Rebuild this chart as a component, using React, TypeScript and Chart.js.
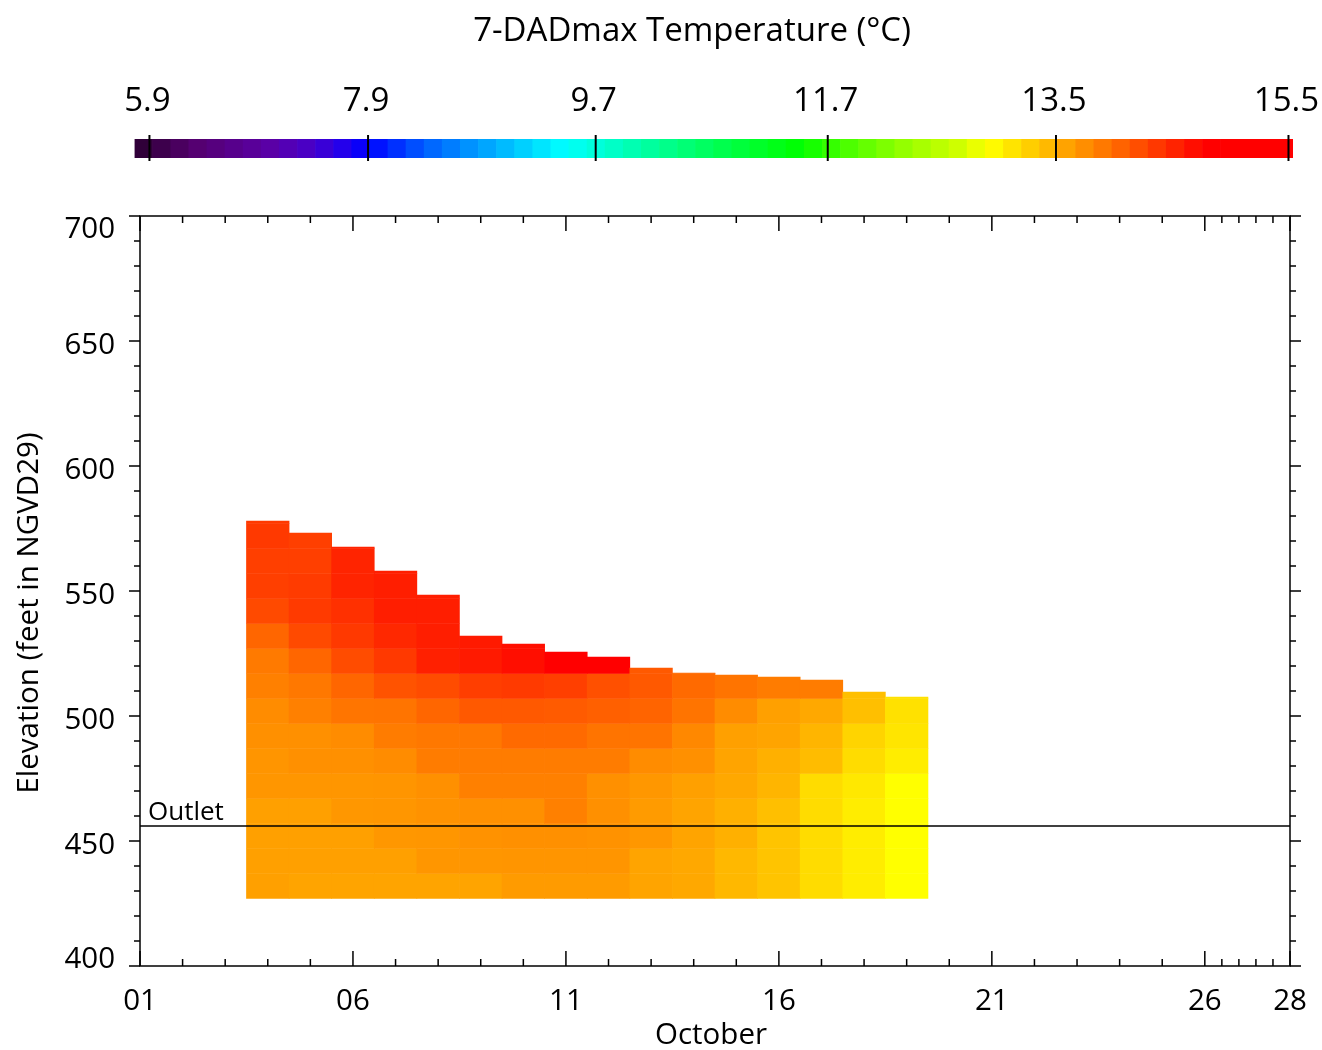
import React, { useEffect, useRef } from "react";
import { Chart, registerables } from "chart.js";

Chart.register(...registerables);

// the figure fills the whole page, so drop the default body margin
if (typeof document !== "undefined" && document.body) {
  document.body.style.margin = "0";
}

const FONT = "'Open Sans', 'DejaVu Sans', sans-serif";
const WEIGHT = "500";

// ---- colour bar ----
const CBAR_TITLE = "7-DADmax Temperature (°C)";
const CBAR_TICK_VALUES = [5.9, 7.9, 9.7, 11.7, 13.5, 15.5];
// where each labelled temperature sits along the bar (0 = left end, 1 = right end)
const CBAR_TICK_FRACTIONS = [0.0129, 0.2016, 0.3981, 0.5984, 0.7954, 0.9961];
const CBAR_BANDS = 64;

// colour ramp along the bar
const COLOR_STOPS: Array<[number, string]> = [
  [0.0, "#2a0030"],
  [0.053, "#550070"],
  [0.12, "#5a00a8"],
  [0.152, "#4800c8"],
  [0.177, "#2800e8"],
  [0.2016, "#0000ff"],
  [0.2516, "#0060ff"],
  [0.318, "#00b8ff"],
  [0.3707, "#00ffff"],
  [0.5054, "#00ff50"],
  [0.5744, "#00ff00"],
  [0.5984, "#30ff00"],
  [0.6606, "#90ff00"],
  [0.7124, "#d0ff00"],
  [0.7384, "#ffff00"],
  [0.7954, "#ffb000"],
  [0.924, "#ff0000"],
  [1.0, "#ff0000"],
];

// ---- reservoir profiles ----
const DAYS = [4, 5, 6, 7, 8, 9, 10, 11, 12, 13, 14, 15, 16, 17, 18, 19];
// water-surface elevation (ft NGVD29) on each day
const SURFACE_ELEV = [578.0, 573.2, 567.6, 558.0, 548.4, 532.0, 528.8, 525.6, 523.6, 519.2, 517.2, 516.4, 515.6, 514.4, 509.6, 507.6];
// profile layers start at the bottom and are 10 ft thick
const PROFILE_BASE = 427;
const LAYER_STEP = 10;

// 7-DADmax temperature (°C) per layer, bottom to surface
const TEMP_OCT04 = [13.62, 13.62, 13.62, 13.62, 13.69, 13.7, 13.73, 13.76, 13.85, 13.89, 14.04, 14.24, 14.32, 14.32, 14.37, 14.37];
const TEMP_OCT05 = [13.59, 13.62, 13.62, 13.62, 13.69, 13.73, 13.73, 13.85, 13.91, 14.04, 14.24, 14.36, 14.35, 14.32, 14.32];
const TEMP_OCT06 = [13.59, 13.62, 13.62, 13.68, 13.69, 13.73, 13.76, 13.93, 14.04, 14.23, 14.37, 14.43, 14.52, 14.52, 14.52];
const TEMP_OCT07 = [13.59, 13.62, 13.68, 13.69, 13.7, 13.76, 13.88, 13.94, 14.18, 14.37, 14.49, 14.56, 14.56, 14.56];
const TEMP_OCT08 = [13.59, 13.69, 13.69, 13.72, 13.73, 13.88, 13.91, 14.04, 14.23, 14.55, 14.56, 14.56, 14.56];
const TEMP_OCT09 = [13.59, 13.69, 13.72, 13.73, 13.85, 13.88, 13.91, 14.13, 14.33, 14.59, 14.59];
const TEMP_OCT10 = [13.65, 13.7, 13.73, 13.73, 13.85, 13.88, 14.01, 14.13, 14.36, 14.68, 14.68];
const TEMP_OCT11 = [13.65, 13.7, 13.73, 13.85, 13.85, 13.88, 14.01, 14.12, 14.32, 14.9];
const TEMP_OCT12 = [13.65, 13.7, 13.72, 13.73, 13.73, 13.88, 13.94, 14.08, 14.2, 14.95];
const TEMP_OCT13 = [13.59, 13.59, 13.68, 13.65, 13.68, 13.76, 13.94, 14.05, 14.13, 14.13];
const TEMP_OCT14 = [13.56, 13.56, 13.59, 13.59, 13.62, 13.73, 13.79, 13.94, 14.01, 14.01];
const TEMP_OCT15 = [13.45, 13.45, 13.5, 13.5, 13.56, 13.59, 13.62, 13.76, 13.94];
const TEMP_OCT16 = [13.37, 13.37, 13.37, 13.4, 13.47, 13.5, 13.59, 13.62, 13.88];
const TEMP_OCT17 = [13.21, 13.21, 13.21, 13.21, 13.21, 13.42, 13.47, 13.56, 13.88];
const TEMP_OCT18 = [13.1, 13.1, 13.1, 13.1, 13.13, 13.21, 13.26, 13.4, 13.4];
const TEMP_OCT19 = [12.98, 12.98, 12.98, 12.98, 12.98, 13.1, 13.15, 13.18, 13.18];
const DAY_PROFILES = [
  TEMP_OCT04, TEMP_OCT05, TEMP_OCT06, TEMP_OCT07, TEMP_OCT08, TEMP_OCT09, TEMP_OCT10, TEMP_OCT11,
  TEMP_OCT12, TEMP_OCT13, TEMP_OCT14, TEMP_OCT15, TEMP_OCT16, TEMP_OCT17, TEMP_OCT18, TEMP_OCT19,
];

const OUTLET_ELEV = 456;
const OUTLET_LABEL = "Outlet";

// ---- axes ----
const X_MIN = 1;
const X_MAX = 28;
const X_TICK_DAYS = [1, 6, 11, 16, 21, 26, 28];
const X_MINOR_DAYS = [2, 3, 4, 5, 7, 8, 9, 10, 12, 13, 14, 15, 17, 18, 19, 20, 22, 23, 24, 25, 26.4, 26.8, 27.2, 27.6];
const X_TITLE = "October";
const Y_MIN = 400;
const Y_MAX = 700;
const Y_TICKS = [400, 450, 500, 550, 600, 650, 700];
const Y_MINOR_STEP = 10;
const Y_TITLE = "Elevation (feet in NGVD29)";

function hexRgb(h: string): number[] {
  const n = parseInt(h.slice(1), 16);
  return [(n >> 16) & 255, (n >> 8) & 255, n & 255];
}

function colorAt(f: number): string {
  const s = COLOR_STOPS;
  if (f <= s[0][0]) return s[0][1];
  for (let i = 1; i < s.length; i++) {
    if (f <= s[i][0]) {
      const [f0, c0] = s[i - 1];
      const [f1, c1] = s[i];
      const t = (f - f0) / (f1 - f0);
      const a = hexRgb(c0);
      const b = hexRgb(c1);
      const m = a.map((v, j) => Math.round(v + (b[j] - v) * t));
      return `rgb(${m[0]},${m[1]},${m[2]})`;
    }
  }
  return s[s.length - 1][1];
}

function tempToFraction(t: number): number {
  const v = CBAR_TICK_VALUES;
  const p = CBAR_TICK_FRACTIONS;
  let i = 1;
  while (i < v.length - 1 && t > v[i]) i++;
  const f = p[i - 1] + ((t - v[i - 1]) / (v[i] - v[i - 1])) * (p[i] - p[i - 1]);
  return Math.min(1, Math.max(0, f));
}

const tempColor = (t: number) => colorAt(tempToFraction(t));

type Cell = { x: number; y: [number, number]; t: number };

function buildCells(): Cell[] {
  const out: Cell[] = [];
  DAY_PROFILES.forEach((temps, i) => {
    temps.forEach((t, k) => {
      const lo = PROFILE_BASE + k * LAYER_STEP;
      const hi = Math.min(lo + LAYER_STEP, SURFACE_ELEV[i]);
      out.push({ x: DAYS[i], y: [lo, hi], t });
    });
  });
  return out;
}

const cbarDecor = {
  id: "cbarDecor",
  afterDatasetsDraw(chart: any) {
    const { ctx, chartArea: a } = chart;
    const xs = chart.scales.x;
    ctx.save();
    ctx.fillStyle = "#000";
    ctx.strokeStyle = "#000";
    ctx.font = `${WEIGHT} 33px ${FONT}`;
    ctx.textAlign = "center";
    ctx.textBaseline = "alphabetic";
    ctx.fillText(CBAR_TITLE, 692, 41);
    ctx.lineWidth = 2;
    CBAR_TICK_VALUES.forEach((v) => {
      const px = xs.getPixelForValue(tempToFraction(v));
      ctx.beginPath();
      ctx.moveTo(px, a.top - 4);
      ctx.lineTo(px, a.bottom + 3);
      ctx.stroke();
      ctx.fillText(v.toFixed(1), px - 2, a.top - 28);
    });
    ctx.restore();
  },
};

const frame = {
  id: "frame",
  afterDraw(chart: any) {
    const { ctx, chartArea: a } = chart;
    const xs = chart.scales.x;
    const ys = chart.scales.y;
    ctx.save();
    ctx.strokeStyle = "#000";
    ctx.fillStyle = "#000";
    ctx.lineWidth = 1.5;
    ctx.strokeRect(a.left, a.top, a.right - a.left, a.bottom - a.top);
    ctx.beginPath();
    const xTick = (d: number, len: number) => {
      const px = xs.getPixelForValue(d);
      ctx.moveTo(px, a.bottom);
      ctx.lineTo(px, a.bottom - len);
      ctx.moveTo(px, a.top);
      ctx.lineTo(px, a.top + len);
    };
    X_TICK_DAYS.forEach((d) => xTick(d, 15));
    X_MINOR_DAYS.forEach((d) => xTick(d, 7));
    for (let v = Y_MIN; v <= Y_MAX; v += Y_MINOR_STEP) {
      const py = ys.getPixelForValue(v);
      const len = Y_TICKS.includes(v) ? 11 : 6;
      ctx.moveTo(a.left, py);
      ctx.lineTo(a.left - len, py);
      ctx.moveTo(a.right, py);
      ctx.lineTo(a.right + len, py);
    }
    ctx.stroke();

    const size = 29.5;
    const half = size * 0.357;
    ctx.font = `${WEIGHT} ${size}px ${FONT}`;
    ctx.textBaseline = "alphabetic";
    ctx.textAlign = "center";
    X_TICK_DAYS.forEach((d) =>
      ctx.fillText(String(d).padStart(2, "0"), xs.getPixelForValue(d), a.bottom + 33 + half)
    );
    ctx.textAlign = "right";
    Y_TICKS.forEach((v) => {
      const py = Math.min(Math.max(ys.getPixelForValue(v) + 2, a.top + 11.5), a.bottom - 9);
      ctx.fillText(String(v), a.left - 25, py + half);
    });

    ctx.textAlign = "center";
    ctx.fillText(X_TITLE, (a.left + a.right) / 2 - 4, a.bottom + 67 + half);
    ctx.save();
    ctx.translate(27, (a.top + a.bottom) / 2 + 22);
    ctx.rotate(-Math.PI / 2);
    ctx.fillText(Y_TITLE, 0, half);
    ctx.restore();

    ctx.font = `${WEIGHT} 26px ${FONT}`;
    ctx.textAlign = "left";
    ctx.fillText(OUTLET_LABEL, a.left + 8, ys.getPixelForValue(OUTLET_ELEV) - 6);
    ctx.restore();
  },
};

export default function App() {
  const barRef = useRef<HTMLCanvasElement>(null);
  const mainRef = useRef<HTMLCanvasElement>(null);

  useEffect(() => {
    document.body.style.margin = "0";
    const bands = Array.from({ length: CBAR_BANDS }, (_, i) => (i + 0.5) / CBAR_BANDS);
    const cbar = new Chart(barRef.current as HTMLCanvasElement, {
      type: "bar",
      data: {
        datasets: [
          {
            data: bands.map((f) => ({ x: f, y: [0, 1] })) as any,
            backgroundColor: bands.map(colorAt),
            borderWidth: 0,
            barPercentage: 1,
            categoryPercentage: 1,
          },
        ],
      },
      options: {
        responsive: false,
        animation: false,
        devicePixelRatio: 1,
        events: [],
        layout: { padding: { left: 134.5, right: 29, top: 139, bottom: 22 } },
        plugins: { legend: { display: false }, tooltip: { enabled: false } },
        scales: {
          x: { type: "linear", min: 0, max: 1, display: false, offset: false },
          y: { type: "linear", min: 0, max: 1, display: false },
        },
      },
      plugins: [cbarDecor],
    });

    const cells = buildCells();
    const main = new Chart(mainRef.current as HTMLCanvasElement, {
      type: "bar",
      data: {
        datasets: [
          {
            type: "line",
            data: [
              { x: X_MIN, y: OUTLET_ELEV },
              { x: X_MAX, y: OUTLET_ELEV },
            ],
            borderColor: "#000",
            borderWidth: 1.5,
            pointRadius: 0,
            order: 0,
          } as any,
          {
            type: "bar",
            data: cells.map((c) => ({ x: c.x, y: c.y })) as any,
            backgroundColor: cells.map((c) => tempColor(c.t)),
            borderWidth: 0,
            barPercentage: 1,
            categoryPercentage: 1,
            order: 1,
          },
        ],
      },
      options: {
        responsive: false,
        animation: false,
        devicePixelRatio: 1,
        events: [],
        layout: { padding: { left: 140, right: 32, top: 36, bottom: 84 } },
        plugins: { legend: { display: false }, tooltip: { enabled: false } },
        scales: {
          x: { type: "linear", min: X_MIN, max: X_MAX, offset: false, display: false, ticks: { stepSize: 1 } },
          y: { type: "linear", min: Y_MIN, max: Y_MAX, display: false },
        },
      },
      plugins: [frame],
    });

    return () => {
      cbar.destroy();
      main.destroy();
    };
  }, []);

  return (
    <div style={{ position: "relative", width: 1322, height: 1050, overflow: "hidden" }}>
      <canvas ref={barRef} width={1322} height={180} style={{ position: "absolute", left: 0, top: 0 }} />
      <canvas ref={mainRef} width={1322} height={870} style={{ position: "absolute", left: 0, top: 180 }} />
    </div>
  );
}
